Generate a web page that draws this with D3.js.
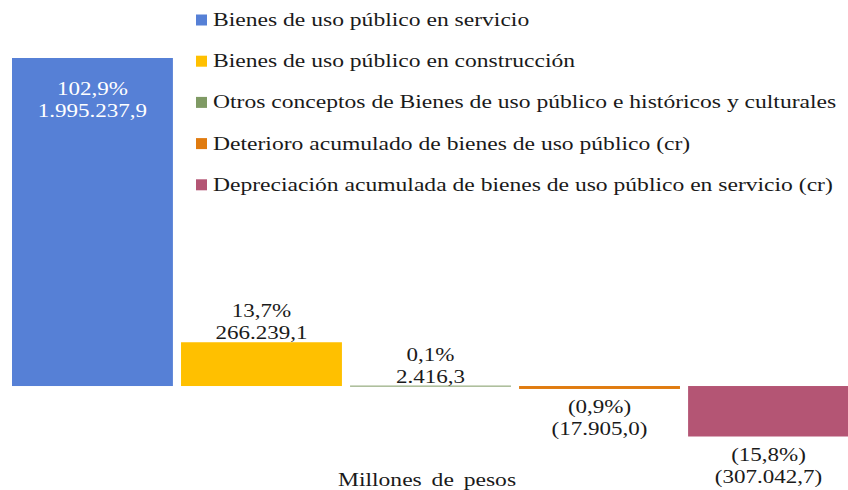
<!DOCTYPE html>
<meta charset="utf-8">
<style>
body {
  margin: 0;
  background: #fff;
}
text {
  font-family: "Liberation Serif", "Times New Roman", serif;
  font-size: 18px;
  fill: #1a1a1a;
}
</style>
<body>
<script src="https://cdn.jsdelivr.net/npm/d3@7"></script>
<script>

var width = 848,
    height = 490;

// data
var categories = [
  "Bienes de uso público en servicio",
  "Bienes de uso público en construcción",
  "Otros conceptos de Bienes de uso público e históricos y culturales",
  "Deterioro acumulado de bienes de uso público (cr)",
  "Depreciación acumulada de bienes de uso público en servicio (cr)"
];
var values = [1995237.9, 266239.1, 2416.3, -17905.0, -307042.7];
var percents = ["102,9%", "13,7%", "0,1%", "(0,9%)", "(15,8%)"];
var amounts = ["1.995.237,9", "266.239,1", "2.416,3", "(17.905,0)", "(307.042,7)"];
var colors = ["#5680d6", "#ffc000", "#7f9a64", "#e07b0f", "#b45574"];

// the reference text is stretched horizontally
var sx = 1.28,
    sxLegend = 1.31;

var svg = d3.select("body").append("svg")
    .attr("width", width)
    .attr("height", height);

var x = d3.scaleBand()
    .domain(categories)
    .range([12, 849])
    .paddingInner(0.048);

var y = d3.scaleLinear()
    .domain([d3.min(values), d3.max(values)])
    .range([436.5, 58]);

var bars = svg.selectAll(".bar")
  .data(values)
  .enter().append("g")
    .attr("class", "bar");

bars.append("rect")
    .attr("x", function(d, i) { return x(categories[i]); })
    .attr("width", x.bandwidth())
    .attr("y", function(d) { return d >= 0 ? y(d) : y(0); })
    .attr("height", function(d) { return Math.max(1, Math.abs(y(d) - y(0))); })
    .style("fill", function(d, i) { return colors[i]; });

// labels: first inside the bar in white, others above / below
function label(sel, lines, i, d) {
  var cx = x(categories[i]) + x.bandwidth() / 2;
  var y1, y2;
  if (i === 0) {
    y1 = y(d) + 37; y2 = y1 + 22;
  } else if (d >= 0) {
    y2 = y(d) - 3; y1 = y2 - 22;
  } else {
    y1 = y(d) + 24; y2 = y1 + 22;
  }
  [y1, y2].forEach(function(yy, k) {
    sel.append("text")
      .attr("text-anchor", "middle")
      .attr("transform", "translate(" + cx + "," + yy + ")scale(" + sx + ",1)")
      .style("fill", i === 0 ? "#fff" : null)
      .text(lines[k]);
  });
}

bars.each(function(d, i) {
  label(d3.select(this), [percents[i], amounts[i]], i, d);
});

// legend
var legend = svg.selectAll(".legend")
  .data(categories)
  .enter().append("g")
    .attr("class", "legend")
    .attr("transform", function(d, i) { return "translate(196," + (20 + i * 41.2) + ")"; });

legend.append("rect")
    .attr("x", 0)
    .attr("y", -5.5)
    .attr("width", 11)
    .attr("height", 11)
    .style("fill", function(d, i) { return colors[i]; });

legend.append("text")
    .attr("transform", "translate(17,6)scale(" + sxLegend + ",1)")
    .text(function(d) { return d; });

svg.append("text")
    .attr("text-anchor", "middle")
    .attr("transform", "translate(427,486)scale(" + sxLegend + ",1)")
    .style("word-spacing", "3px")
    .text("Millones de pesos");

</script>
